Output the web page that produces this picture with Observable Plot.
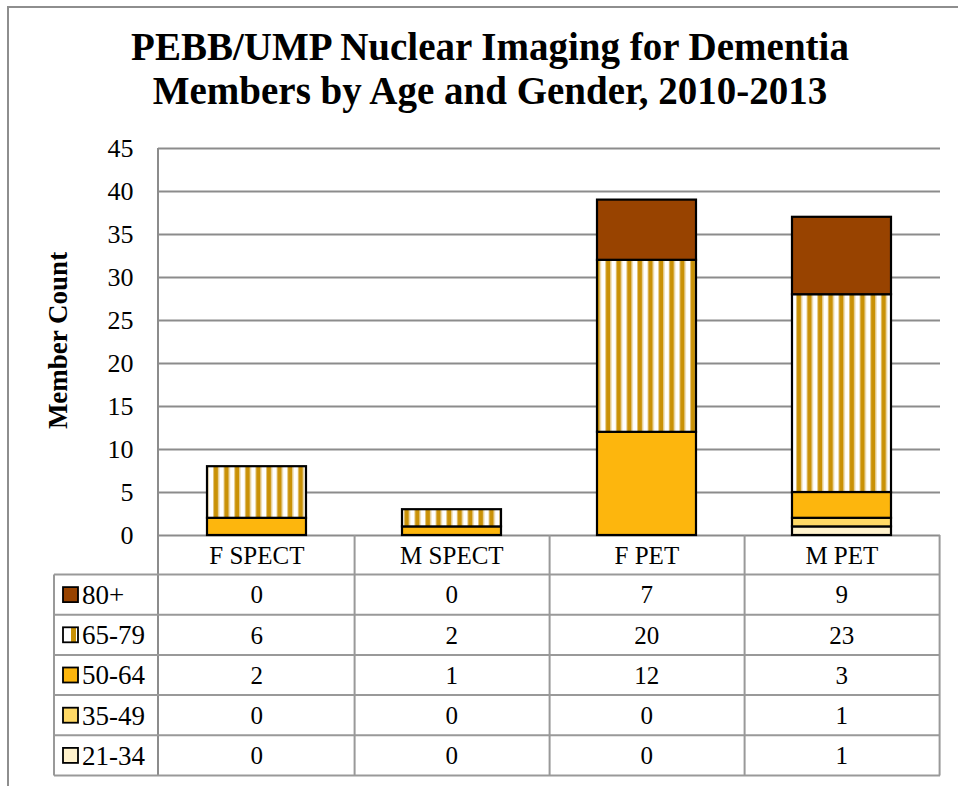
<!DOCTYPE html>
<html>
<head>
<meta charset="utf-8">
<script src="https://cdn.jsdelivr.net/npm/d3@7"></script>
<script src="https://cdn.jsdelivr.net/npm/@observablehq/plot@0.6"></script>
<style>
  html, body { margin: 0; padding: 0; background: #fff; }
  #wrap { position: relative; width: 958px; height: 786px; overflow: hidden; background: #fff; }
  #frame { position: absolute; left: 7px; top: 6px; width: 1000px; height: 900px;
           border-top: 2px solid #8e8e8e; border-left: 2px solid #8e8e8e; }
  #title { position: absolute; left: 0; top: 25px; width: 980px; text-align: center;
           font-family: "Liberation Serif", serif; font-weight: bold; font-size: 39px;
           line-height: 44px; color: #000; z-index: 2; }
  #chart { position: absolute; left: 0; top: 0; }
</style>
</head>
<body>
<div id="wrap">
  <div id="frame"></div>
  <div id="chart"></div>
  <div id="title">PEBB/UMP Nuclear Imaging for Dementia<br>Members by Age and Gender, 2010-2013</div>
</div>
<script>
// ---- data ----
const categories = ["F SPECT", "M SPECT", "F PET", "M PET"];
const ageGroups = ["21-34", "35-49", "50-64", "65-79", "80+"]; // bottom to top of stack
const age21to34 = [0, 0, 0, 1];
const age35to49 = [0, 0, 0, 1];
const age50to64 = [2, 1, 12, 3];
const age65to79 = [6, 2, 20, 23];
const age80plus = [0, 0, 7, 9];
const yTicks = [0, 5, 10, 15, 20, 25, 30, 35, 40, 45];
const yLabel = "Member Count";

// ---- styles ----
const fills = ["#FFF2CC", "#FFD966", "#FDB60D", "url(#stripes)", "#984300"];

const series = [age21to34, age35to49, age50to64, age65to79, age80plus];
const rows = [];
ageGroups.forEach((age, k) => {
  categories.forEach((cat, i) => {
    rows.push({cat, age, value: series[k][i]});
  });
});

const chart = Plot.plot({
  width: 958,
  height: 786,
  marginLeft: 158,
  marginRight: 18,
  marginTop: 148,
  marginBottom: 251,
  style: {fontFamily: "Liberation Serif, serif", fontSize: "26px", color: "#000", background: "transparent", overflow: "visible"},
  x: {domain: categories, paddingInner: 0.49, paddingOuter: 0.245, axis: null},
  y: {domain: [0, 45], ticks: yTicks, tickSize: 0, tickPadding: 25, label: null, tickFormat: d => String(d)},
  color: {type: "ordinal", domain: ageGroups, range: fills},
  marks: [
    Plot.ruleY(yTicks, {stroke: "#8c8c8c", strokeWidth: 2}),
    Plot.barY(rows.filter(d => d.value > 0), Plot.stackY({
      x: "cat", y: "value", fill: "age", stroke: "#000", strokeWidth: 2.2
    }))
  ]
});

document.getElementById("chart").appendChild(chart);

const svg = d3.select(chart);

// stripe pattern for 65-79
const defs = svg.insert("defs", ":first-child");
const pat = defs.append("pattern").attr("id", "stripes")
  .attr("patternUnits", "userSpaceOnUse").attr("width", 10.6).attr("height", 10).attr("x", 1);
pat.append("rect").attr("width", 10.6).attr("height", 10).attr("fill", "#fff");
pat.append("rect").attr("x", 0).attr("width", 1).attr("height", 10).attr("fill", "#e3c57c");
pat.append("rect").attr("x", 1).attr("width", 4.2).attr("height", 10).attr("fill", "#C99106");
pat.append("rect").attr("x", 5.2).attr("width", 1).attr("height", 10).attr("fill", "#e3c57c");

// scales
const sx = chart.scale("x");
const sy = chart.scale("y");
const band = d3.scaleBand().domain(categories).range(sx.range).paddingInner(0.49).paddingOuter(0.245);
const xCenter = c => (sx.apply ? sx.apply(c) : band(c)) + band.bandwidth() / 2;
const step = band.step();
const yOf = v => (sy.apply ? sy.apply(v) : d3.scaleLinear().domain(sy.domain).range(sy.range)(v));

const x0 = sx.range[0], x1 = sx.range[1];
const yTop = yOf(45), yZero = yOf(0);
const headerH = 39.5, rowH = 40.2;
const legendLeft = 54;
const bodyTop = yZero + headerH;
const tableBottom = bodyTop + rowH * ageGroups.length;

const g = svg.append("g").attr("font-family", "Liberation Serif, serif").attr("fill", "#000");
const lineColor = "#999";

// axis line + table vertical lines
g.append("line").attr("x1", x0).attr("x2", x0).attr("y1", yTop).attr("y2", tableBottom)
  .attr("stroke", "#8c8c8c").attr("stroke-width", 2);
categories.forEach(c => {
  const xr = xCenter(c) + step / 2;
  g.append("line").attr("x1", xr).attr("x2", xr).attr("y1", yZero).attr("y2", tableBottom)
    .attr("stroke", lineColor).attr("stroke-width", 2);
});
g.append("line").attr("x1", legendLeft).attr("x2", legendLeft).attr("y1", bodyTop).attr("y2", tableBottom)
  .attr("stroke", lineColor).attr("stroke-width", 2);
// horizontal lines
for (let k = 0; k <= ageGroups.length; k++) {
  const yy = bodyTop + k * rowH;
  g.append("line").attr("x1", legendLeft).attr("x2", x1).attr("y1", yy).attr("y2", yy)
    .attr("stroke", lineColor).attr("stroke-width", 2);
}

// header labels
categories.forEach(c => {
  g.append("text").attr("x", xCenter(c)).attr("y", yZero + headerH / 2)
    .attr("text-anchor", "middle").attr("dy", "0.35em").attr("font-size", 25).text(c);
});

// body rows, top to bottom: 80+ ... 21-34
const displayOrder = ageGroups.slice().reverse();
displayOrder.forEach((age, r) => {
  const k = ageGroups.indexOf(age);
  const cy = bodyTop + r * rowH + rowH / 2;
  // swatch
  if (fills[k].startsWith("url")) {
    g.append("rect").attr("x", 63).attr("y", cy - 7.5).attr("width", 15).attr("height", 15).attr("fill", "#fff");
    g.append("rect").attr("x", 71).attr("y", cy - 7.5).attr("width", 5).attr("height", 15).attr("fill", "#C99106");
    g.append("rect").attr("x", 63).attr("y", cy - 7.5).attr("width", 15).attr("height", 15)
      .attr("fill", "none").attr("stroke", "#000").attr("stroke-width", 1.8);
  } else {
    g.append("rect").attr("x", 63).attr("y", cy - 7.5).attr("width", 15).attr("height", 15)
      .attr("fill", fills[k]).attr("stroke", "#000").attr("stroke-width", 1.8);
  }
  g.append("text").attr("x", 82).attr("y", cy).attr("dy", "0.35em").attr("text-anchor", "start")
    .attr("font-size", 27).text(age);
  categories.forEach((c, i) => {
    g.append("text").attr("x", xCenter(c)).attr("y", cy).attr("dy", "0.35em")
      .attr("text-anchor", "middle").attr("font-size", 25).text(series[k][i]);
  });
});

// y label
g.append("text").attr("transform", `translate(58,${(yTop + yZero) / 2 - 1}) rotate(-90)`)
  .attr("text-anchor", "middle").attr("dy", "0.35em").attr("font-weight", "bold")
  .attr("font-size", 27).text(yLabel);
</script>
</body>
</html>
